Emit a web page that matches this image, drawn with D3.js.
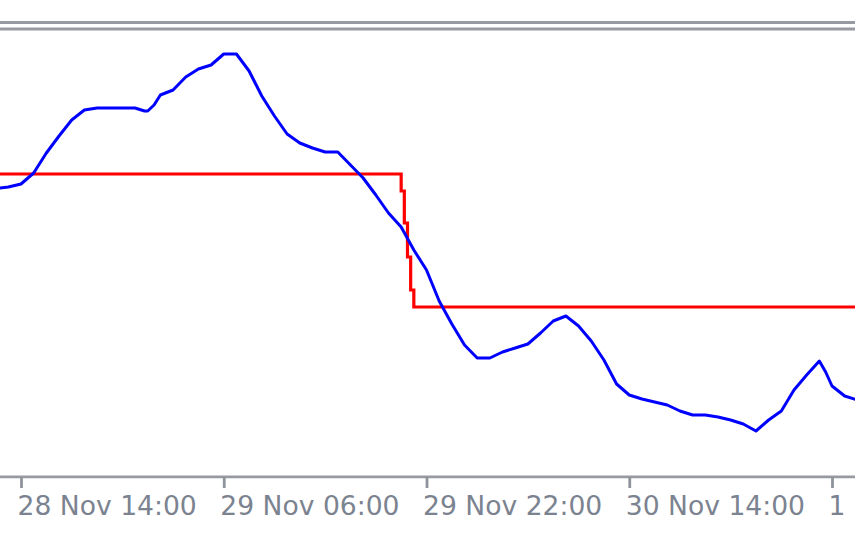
<!DOCTYPE html>
<html>
<head>
<meta charset="utf-8">
<script src="https://cdn.jsdelivr.net/npm/d3@7"></script>
<style>
  html, body { margin: 0; padding: 0; background: #ffffff; overflow: hidden; }
  svg { display: block; }
</style>
</head>
<body>
<svg id="chart" width="855" height="534"></svg>
<script>
// ---- data ----
const blueTimes = [
  "2012-11-28 12:20","2012-11-28 13:00","2012-11-28 14:00","2012-11-28 15:00","2012-11-28 16:00",
  "2012-11-28 17:00","2012-11-28 18:00","2012-11-28 19:00","2012-11-28 20:00","2012-11-28 21:00",
  "2012-11-28 22:00","2012-11-28 23:00","2012-11-28 23:45","2012-11-29 00:00","2012-11-29 00:30",
  "2012-11-29 01:00","2012-11-29 02:00","2012-11-29 03:00","2012-11-29 04:00","2012-11-29 05:00",
  "2012-11-29 06:00","2012-11-29 07:00","2012-11-29 08:00","2012-11-29 09:00","2012-11-29 10:00",
  "2012-11-29 11:00","2012-11-29 12:00","2012-11-29 13:00","2012-11-29 14:00","2012-11-29 15:00",
  "2012-11-29 16:00","2012-11-29 17:00","2012-11-29 18:00","2012-11-29 19:00","2012-11-29 20:00",
  "2012-11-29 21:00","2012-11-29 22:00","2012-11-29 23:00","2012-11-30 00:00","2012-11-30 01:00",
  "2012-11-30 02:00","2012-11-30 03:00","2012-11-30 04:00","2012-11-30 05:00","2012-11-30 06:00",
  "2012-11-30 07:00","2012-11-30 08:00","2012-11-30 09:00","2012-11-30 10:00","2012-11-30 11:00",
  "2012-11-30 12:00","2012-11-30 13:00","2012-11-30 14:00","2012-11-30 15:00","2012-11-30 16:00",
  "2012-11-30 17:00","2012-11-30 18:00","2012-11-30 19:00","2012-11-30 20:00","2012-11-30 21:00",
  "2012-11-30 22:00","2012-11-30 23:00","2012-12-01 00:00","2012-12-01 01:00","2012-12-01 02:00",
  "2012-12-01 03:00","2012-12-01 04:00","2012-12-01 05:00","2012-12-01 05:30","2012-12-01 06:00",
  "2012-12-01 07:00","2012-12-01 08:00"
];
const blueValues = [
  1.3240,1.3241,1.3244,1.3255,1.3275,
  1.3292,1.3308,1.3318,1.3320,1.3320,
  1.3320,1.3320,1.3317,1.3317,1.3323,
  1.3333,1.3338,1.3351,1.3359,1.3363,
  1.3374,1.3374,1.3357,1.3332,1.3312,
  1.3294,1.3285,1.3280,1.3276,1.3276,
  1.3263,1.3250,1.3233,1.3215,1.3201,
  1.3178,1.3158,1.3127,1.3104,1.3083,
  1.3070,1.3070,1.3076,1.3080,1.3084,
  1.3095,1.3107,1.3112,1.3102,1.3087,
  1.3068,1.3044,1.3033,1.3029,1.3026,
  1.3023,1.3017,1.3013,1.3013,1.3011,
  1.3008,1.3004,1.2997,1.3008,1.3017,
  1.3038,1.3053,1.3067,1.3056,1.3042,
  1.3032,1.3028
];
const redTimes = [
  "2012-11-28 12:20","2012-11-29 20:00","2012-11-29 20:15","2012-11-29 20:30",
  "2012-11-29 20:45","2012-11-29 21:00","2012-12-01 08:00"
];
const redValues = [1.3254,1.3237,1.3205,1.3171,1.3138,1.3121,1.3121];
const tickTimes = ["2012-11-28 14:00","2012-11-29 06:00","2012-11-29 22:00","2012-11-30 14:00","2012-12-01 06:00"];
const priceDomain = [1.2950, 1.3400];

// ---- drawing ----
const W = 855, H = 534;
const parse = d3.utcParse("%Y-%m-%d %H:%M");
const svg = d3.select("#chart");

svg.append("rect").attr("width", W).attr("height", H).attr("fill", "#ffffff");

const ticks = tickTimes.map(parse);
const x = d3.scaleUtc().domain([ticks[0], ticks[4]]).range([21, 832]);
const y = d3.scaleLinear().domain(priceDomain).range([478, 28]);

// top frame lines
[22.5, 29].forEach(yy => {
  svg.append("line").attr("x1", 0).attr("x2", W).attr("y1", yy).attr("y2", yy)
    .attr("stroke", "#979aa1").attr("stroke-width", 2.8);
});

const plot = svg.append("g");

const blue = blueTimes.map((t, i) => ({ t: parse(t), v: blueValues[i] }));
const red = redTimes.map((t, i) => ({ t: parse(t), v: redValues[i] }));

plot.append("path").datum(red)
  .attr("fill", "none").attr("stroke", "#ff0000").attr("stroke-width", 3.2)
  .attr("d", d3.line().x(d => x(d.t)).y(d => y(d.v)).curve(d3.curveStepAfter));

plot.append("path").datum(blue)
  .attr("fill", "none").attr("stroke", "#0000ff").attr("stroke-width", 3)
  .attr("stroke-linejoin", "round")
  .attr("d", d3.line().x(d => x(d.t)).y(d => y(d.v)));

// bottom axis
svg.append("line").attr("x1", 0).attr("x2", W).attr("y1", 476.8).attr("y2", 476.8)
  .attr("stroke", "#979aa1").attr("stroke-width", 2.8);

const axis = d3.axisBottom(x)
  .tickValues(ticks)
  .tickFormat(d3.utcFormat("%-d %b %H:%M"))
  .tickSize(11)
  .tickPadding(0);

const ag = svg.append("g").attr("transform", "translate(0,477)").call(axis);
ag.select(".domain").remove();
ag.selectAll(".tick line").attr("stroke", "#8f939b").attr("stroke-width", 2.8);
ag.selectAll(".tick text")
  .attr("text-anchor", "start")
  .attr("x", -4)
  .attr("y", 38)
  .attr("dy", 0)
  .attr("fill", "#7c8390")
  .style("font-family", "'DejaVu Sans', sans-serif")
  .style("font-size", "26.6px");
</script>
</body>
</html>
